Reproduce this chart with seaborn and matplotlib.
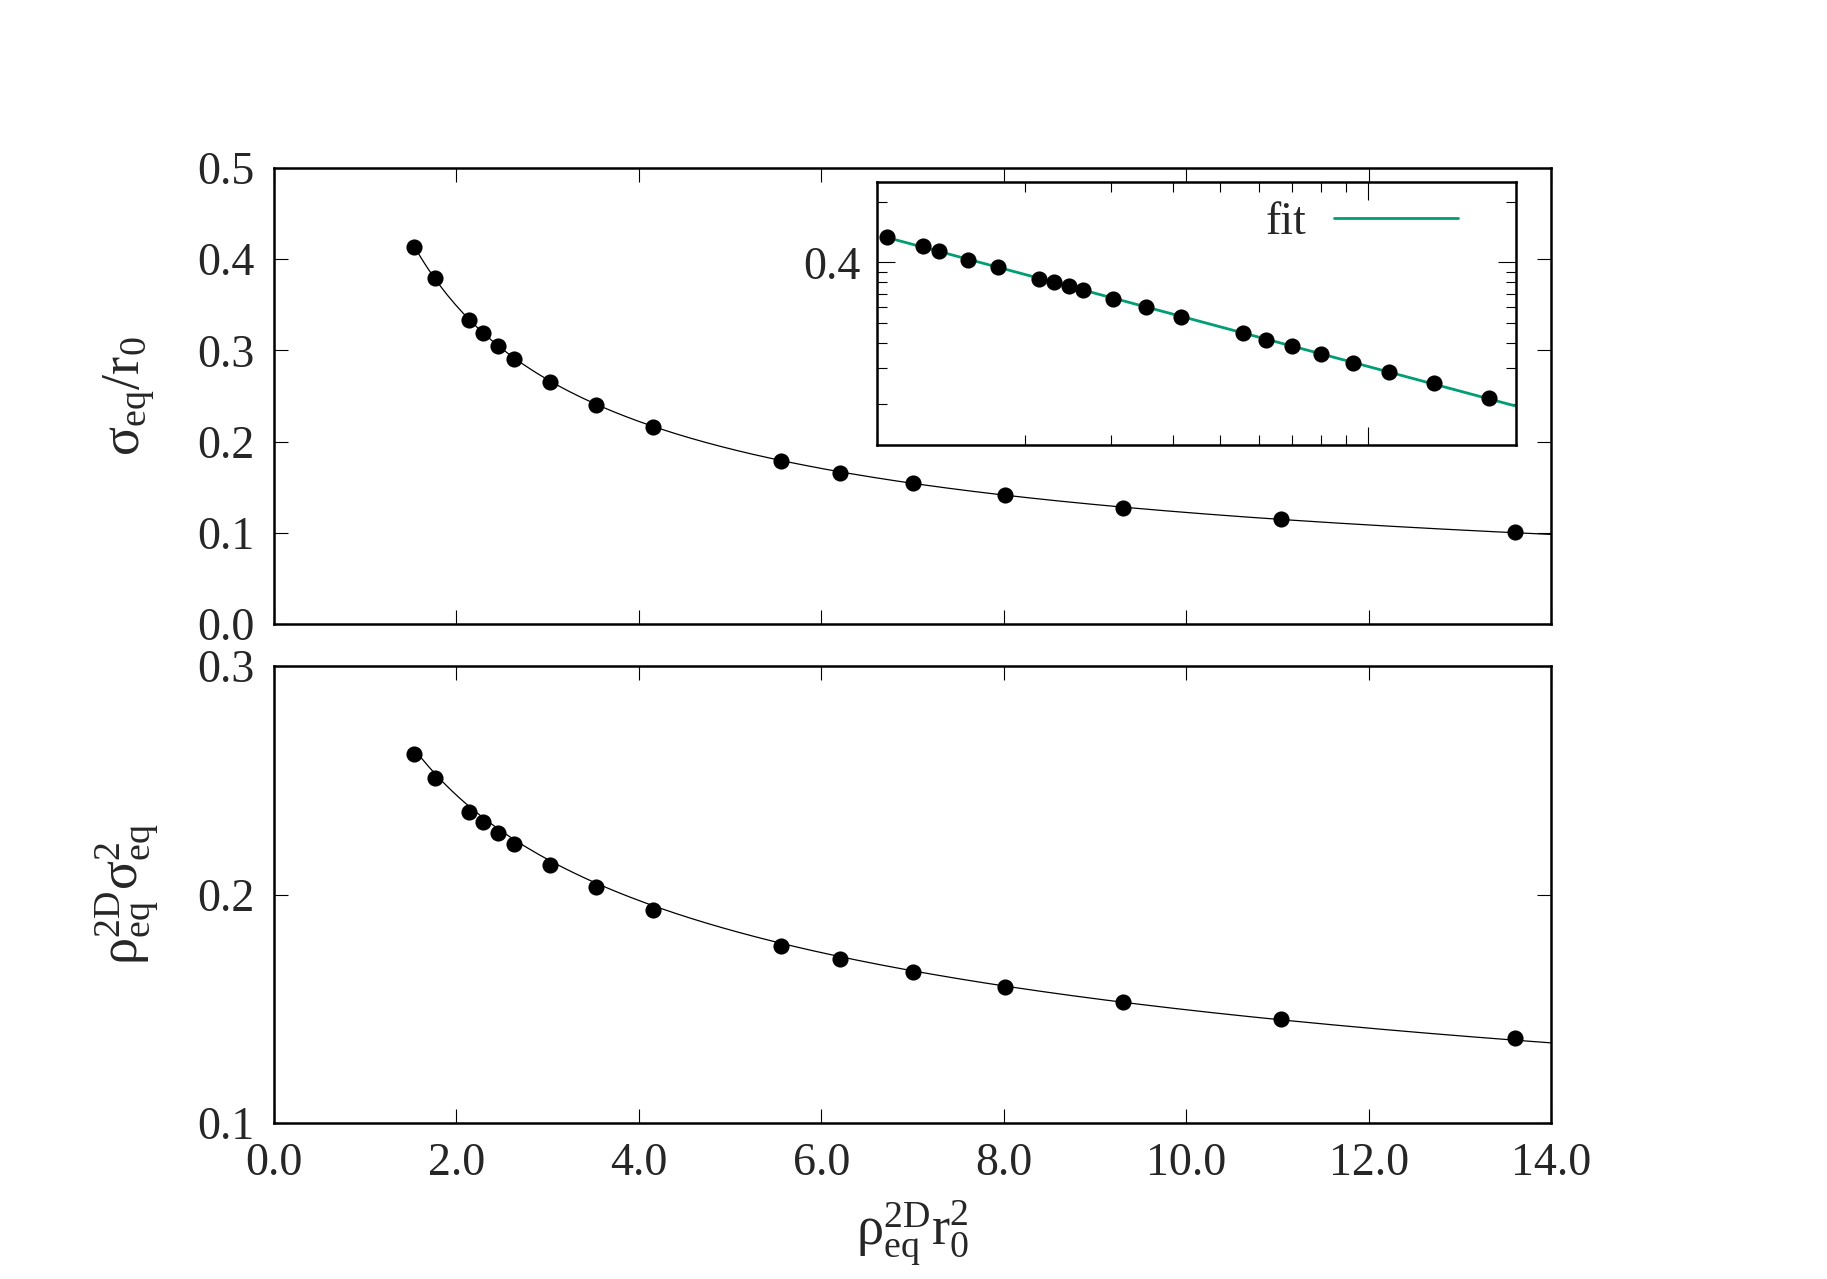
import numpy as np
import matplotlib
matplotlib.use('Agg')
import matplotlib.pyplot as plt
import seaborn as sns
from matplotlib.ticker import FixedLocator, NullFormatter, FormatStrFormatter

# data
x_main = [1.53, 1.76, 2.14, 2.29, 2.46, 2.63, 3.03, 3.53, 4.16, 5.56, 6.20, 7.00, 8.01, 9.31, 11.04, 13.60]
sigma_main = [0.413, 0.379, 0.333, 0.319, 0.305, 0.291, 0.265, 0.240, 0.2156, 0.1786,
              0.1658, 0.1543, 0.1416, 0.1276, 0.1148, 0.1008]
rho_sigma2 = [0.2617, 0.2510, 0.2362, 0.2316, 0.2270, 0.2219, 0.2128, 0.2031, 0.1934, 0.1776,
              0.1719, 0.1663, 0.1597, 0.1531, 0.1454, 0.1372]
# extra points only shown in the inset
x_low = [1.05, 1.24, 1.34]
sigma_low = [0.534, 0.480, 0.457]
x_high = [17.6]
sigma_high = [0.0853]

x_ticks = [0, 2, 4, 6, 8, 10, 12, 14]
top_yticks = [0.0, 0.1, 0.2, 0.3, 0.4, 0.5]
bot_yticks = [0.1, 0.2, 0.3]

x_in = np.array(x_low + x_main + x_high)
s_in = np.array(sigma_low + sigma_main + sigma_high)

# power-law fit (straight line on log-log)
b, lnA = np.polyfit(np.log(x_in), np.log(s_in), 1)
def fit(x):
    return np.exp(lnA) * x ** b

sns.set_style('ticks')
plt.rcParams['font.family'] = ['Liberation Serif', 'DejaVu Serif']
plt.rcParams['mathtext.fontset'] = 'custom'
plt.rcParams['mathtext.rm'] = 'Liberation Serif'
plt.rcParams['mathtext.it'] = 'Liberation Serif'
plt.rcParams['font.size'] = 33

TICK_FS = 33
LABEL_FS = 39

fig = plt.figure(figsize=(18.27, 12.79), dpi=100)
W, H = 1827, 1279
def box(x0, y0, x1, y1):
    return [x0 / W, 1 - y1 / H, (x1 - x0) / W, (y1 - y0) / H]

ax1 = fig.add_axes(box(274, 168, 1551, 624))
ax2 = fig.add_axes(box(274, 666, 1551, 1123))
axi = fig.add_axes(box(877, 182, 1516, 445))

def style(ax):
    for sp in ax.spines.values():
        sp.set_linewidth(1.8)
        sp.set_color('black')
    ax.tick_params(which='both', direction='in', top=True, right=True,
                   width=0.8, color='black', labelsize=TICK_FS)
    ax.tick_params(which='major', length=10)
    ax.tick_params(which='minor', length=5)

xf = np.linspace(x_main[0], 14, 300)

# top panel
sns.lineplot(x=xf, y=fit(xf), ax=ax1, color='black', linewidth=0.9, estimator=None, sort=False)
sns.scatterplot(x=x_main, y=sigma_main, ax=ax1, color='black', s=135, linewidth=0, zorder=3)
ax1.set_xlim(0, 14)
ax1.set_ylim(0, 0.5)
ax1.set_xticks(x_ticks)
ax1.set_yticks(top_yticks)
ax1.xaxis.set_major_formatter(NullFormatter())
ax1.yaxis.set_major_formatter(FormatStrFormatter('%.1f'))
ax1.set_ylabel(r'$\mathrm{σ_{eq}/r_0}$', fontsize=LABEL_FS)
ax1.yaxis.set_label_coords(-0.092, 0.5)
style(ax1)
ax1.tick_params(axis='y', pad=14)

# bottom panel
sns.lineplot(x=xf, y=xf * fit(xf) ** 2, ax=ax2, color='black', linewidth=0.9, estimator=None, sort=False)
sns.scatterplot(x=x_main, y=rho_sigma2, ax=ax2, color='black', s=135, linewidth=0, zorder=3)
ax2.set_xlim(0, 14)
ax2.set_ylim(0.1, 0.3)
ax2.set_xticks(x_ticks)
ax2.set_yticks(bot_yticks)
ax2.xaxis.set_major_formatter(FormatStrFormatter('%.1f'))
ax2.yaxis.set_major_formatter(FormatStrFormatter('%.1f'))
ax2.set_ylabel(r'$\mathrm{ρ^{2D}_{eq}σ^{2}_{eq}}$', fontsize=LABEL_FS)
ax2.yaxis.set_label_coords(-0.089, 0.5)
ax2.set_xlabel(r'$\mathrm{ρ^{2D}_{eq}r^{2}_{0}}$', fontsize=LABEL_FS, va='top')
ax2.xaxis.set_label_coords(0.5, -0.165)
style(ax2)
ax2.tick_params(axis='y', pad=14)
ax2.tick_params(axis='x', pad=14)

# inset (log-log)
xi = np.geomspace(x_in[0], 20, 50)
sns.lineplot(x=xi, y=fit(xi), ax=axi, color='#009e73', linewidth=2.0, estimator=None, sort=False,
             label='fit')
sns.scatterplot(x=x_in, y=s_in, ax=axi, color='black', s=135, linewidth=0, zorder=3)
axi.set_xscale('log')
axi.set_yscale('log')
axi.set_xlim(1, 20)
axi.set_ylim(0.05, 1.0)
axi.xaxis.set_major_locator(FixedLocator([1, 10]))
axi.xaxis.set_minor_locator(FixedLocator([2, 3, 4, 5, 6, 7, 8, 9]))
axi.xaxis.set_major_formatter(NullFormatter())
axi.xaxis.set_minor_formatter(NullFormatter())
axi.yaxis.set_major_locator(FixedLocator([0.4]))
axi.yaxis.set_minor_locator(FixedLocator([0.08, 0.12, 0.16, 0.2, 0.24, 0.28, 0.32, 0.36, 0.8]))
axi.yaxis.set_major_formatter(FormatStrFormatter('%.1f'))
axi.yaxis.set_minor_formatter(NullFormatter())
style(axi)
axi.tick_params(which='major', length=13)
axi.tick_params(which='minor', length=7)
axi.tick_params(axis='y', pad=12)
axi.legend(loc='upper right', frameon=False, fontsize=TICK_FS, markerfirst=False,
           handlelength=2.7, handletextpad=0.6, borderaxespad=0.2,
           bbox_to_anchor=(0.952, 1.03))

fig.savefig('out.png', dpi=100, facecolor='white')
